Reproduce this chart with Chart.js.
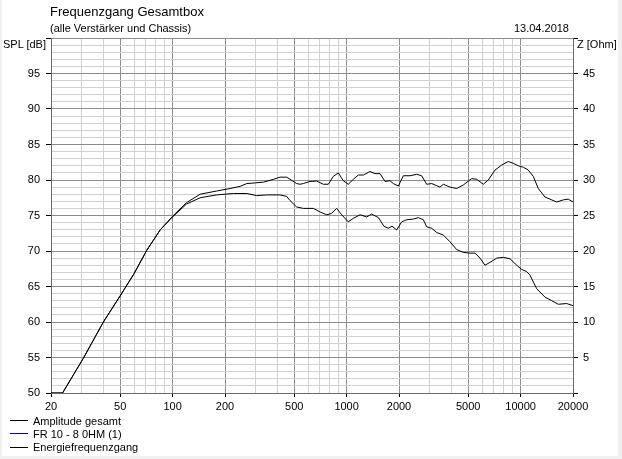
<!DOCTYPE html>
<html><head><meta charset="utf-8">
<script src="https://cdn.jsdelivr.net/npm/chart.js@4/dist/chart.umd.min.js"></script>
<style>
html,body{margin:0;padding:0;background:#f0f0f0;width:622px;height:459px;overflow:hidden;font-family:"Liberation Sans",Arial,sans-serif;}
#wrap{position:absolute;left:2px;top:0;width:616px;height:456px;background:#fff;}
#c{position:absolute;left:0;top:0;}
.t{position:absolute;white-space:nowrap;color:#000;font-size:11px;line-height:12px;}
#legend{position:absolute;left:10px;top:414px;}
.row{height:13.3px;display:flex;align-items:center;font-size:11px;}
.sw{width:18px;height:1px;margin-right:5px;}
</style></head>
<body>
<div id="wrap"></div>
<canvas id="c" width="622" height="459"></canvas>
<div class="t" style="left:50px;top:5px;font-size:13px;line-height:14px;">Frequenzgang Gesamtbox</div>
<div class="t" style="left:50px;top:22px;">(alle Verstärker und Chassis)</div>
<div class="t" style="right:53px;top:22px;">13.04.2018</div>
<div class="t" style="left:3px;top:38px;">SPL [dB]</div>
<div class="t" style="left:577px;top:38px;">Z [Ohm]</div>
<div id="legend"></div>
<script>
// ---- data ----
const xGridTicks = [20,30,40,50,60,70,80,90,100,200,300,400,500,600,700,800,900,1000,2000,3000,4000,5000,6000,7000,8000,9000,10000,20000];
const xLabelTicks = [20,50,100,200,500,1000,2000,5000,10000,20000];
const splTickLabels = [50,55,60,65,70,75,80,85,90,95];
const ohmTickLabels = [5,10,15,20,25,30,35,40,45];

const amplitudeFreq = [20,23.3,30.7,40,50,60,71,85,100,120,144,179,214,244,267,300,333,380,414,452,473,516,540,564,616,673,735,785,838,896,957,1022,1093,1167,1248,1362,1456,1556,1662,1776,1854,1982,2118,2313,2528,2700,2886,3084,3294,3440,3596,3928,4292,4684,5236,5594,6102,6520,7126,7780,8496,9080,9696,10356,11068,11830,12636,13808,15090,16112,17592,18794,20000];
const amplitudeSpl = [50,50,54.9,60,63.7,66.8,70.1,73.0,74.9,76.8,78.0,78.45,78.8,79.1,79.5,79.6,79.7,80.1,80.4,80.4,80.1,79.5,79.4,79.5,79.8,79.85,79.4,79.4,80.5,81.0,79.9,79.4,80.1,80.7,80.7,81.2,80.9,80.9,79.8,79.9,79.5,79.15,80.6,80.6,80.8,80.6,79.4,79.5,79.2,79.0,79.4,79.0,78.8,79.3,80.2,80.1,79.4,80.0,81.4,82.1,82.6,82.35,82.0,81.8,81.4,80.5,78.8,77.6,77.2,76.9,77.2,77.3,76.9];

const fr10Freq = [];
const fr10Ohm = [];

const energyFreq = [20,23.3,30.7,40,50,60,71,85,100,120,144,179,224,267,304,348,414,452,473,516,564,644,703,768,821,877,937,1022,1093,1194,1304,1392,1525,1636,1736,1823,1940,2072,2214,2416,2582,2760,2886,3084,3294,3596,3928,4292,4684,5118,5468,5844,6240,6668,7290,7952,8690,9496,10140,10840,11320,12360,13808,15090,16460,18400,20000];
const energySpl = [50,50,54.9,60,63.7,66.8,70.1,73.0,74.8,76.6,77.5,77.9,78.1,78.1,77.8,77.9,77.9,77.7,77.1,76.2,76.0,76.0,75.5,75.1,75.3,76.0,75.1,74.1,74.6,75.1,74.8,75.2,74.7,73.5,73.2,73.5,72.96,74.1,74.4,74.5,74.7,74.4,73.4,73.2,72.6,72.25,71.3,70.2,69.8,69.7,69.7,69.0,68.0,68.4,69.0,69.1,68.9,68.0,67.4,67.1,66.6,64.7,63.5,63.0,62.5,62.6,62.3];

const toPts = (xs, ys) => xs.map((x, i) => ({x, y: ys[i]}));

Chart.defaults.font.family = '"Liberation Sans", Arial, sans-serif';
Chart.defaults.font.size = 11;
Chart.defaults.color = '#000';

const MAJOR = '#8c8c8c', MINOR = '#d2d2d2';

const chart = new Chart(document.getElementById('c'), {
  type: 'line',
  data: {
    datasets: [
      {label: 'Amplitude gesamt', data: toPts(amplitudeFreq, amplitudeSpl), borderColor: '#000000', borderWidth: 1, pointRadius: 0, tension: 0, yAxisID: 'y'},
      {label: 'FR 10 - 8 0HM (1)', data: toPts(fr10Freq, fr10Ohm), borderColor: '#000080', borderWidth: 1, pointRadius: 0, tension: 0, yAxisID: 'y1'},
      {label: 'Energiefrequenzgang', data: toPts(energyFreq, energySpl), borderColor: '#000000', borderWidth: 1, pointRadius: 0, tension: 0, yAxisID: 'y'}
    ]
  },
  options: {
    responsive: false, animation: false, parsing: true,
    layout: {padding: {top: 38, left: 0, right: 0, bottom: 0}},
    plugins: {legend: {display: false}, tooltip: {enabled: false}},
    scales: {
      x: {
        type: 'logarithmic', min: 20, max: 20000,
        afterBuildTicks: s => { s.ticks = xGridTicks.map(v => ({value: v})); },
        afterFit: s => { s.height = 66; },
        ticks: {autoSkip: false, maxRotation: 0, padding: 3,
          callback: v => xLabelTicks.includes(v) ? String(v) : ''},
        grid: {
          color: c => xLabelTicks.includes(c.tick && c.tick.value) ? MAJOR : MINOR,
          tickColor: c => xLabelTicks.includes(c.tick && c.tick.value) ? '#000' : 'rgba(0,0,0,0)',
          tickLength: 4, lineWidth: 1
        },
        border: {color: '#6a6a6a'}
      },
      y: {
        position: 'left', min: 50, max: 100,
        afterBuildTicks: s => { const t = []; for (let v = 50; v <= 100; v++) t.push({value: v}); s.ticks = t; },
        afterFit: s => { s.width = 51; },
        ticks: {autoSkip: false, padding: 6,
          callback: v => splTickLabels.includes(v) ? String(v) : ''},
        grid: {
          color: c => (c.tick && c.tick.value % 5 === 0) ? MAJOR : MINOR,
          tickColor: c => (c.tick && c.tick.value % 5 === 0) ? '#000' : 'rgba(0,0,0,0)',
          tickLength: 5
        },
        border: {color: '#6a6a6a'}
      },
      y1: {
        position: 'right', min: 0, max: 50,
        afterBuildTicks: s => { const t = []; for (let v = 0; v <= 50; v += 5) t.push({value: v}); s.ticks = t; },
        afterFit: s => { s.width = 49; },
        ticks: {autoSkip: false, padding: 5,
          callback: v => ohmTickLabels.includes(v) ? String(v) : ''},
        grid: {drawOnChartArea: false, tickColor: '#000', tickLength: 5},
        border: {color: '#6a6a6a'}
      }
    }
  }
});

// legend built from datasets
const lg = document.getElementById('legend');
chart.data.datasets.forEach(ds => {
  const r = document.createElement('div'); r.className = 'row';
  const sw = document.createElement('span'); sw.className = 'sw'; sw.style.background = ds.borderColor;
  const tx = document.createElement('span'); tx.textContent = ds.label;
  r.appendChild(sw); r.appendChild(tx); lg.appendChild(r);
});
</script>
</body></html>
